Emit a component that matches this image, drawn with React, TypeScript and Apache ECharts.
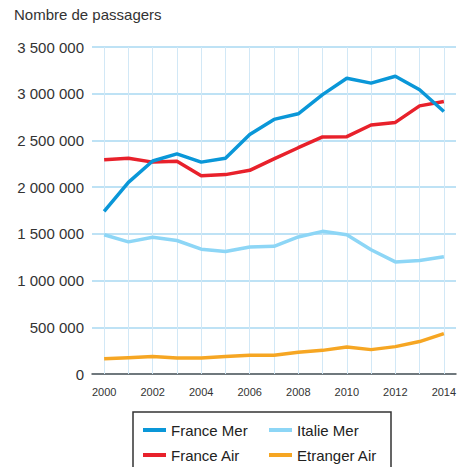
import React, { useEffect, useRef } from "react";
import * as echarts from "echarts";

const years = ["2000","2001","2002","2003","2004","2005","2006","2007","2008","2009","2010","2011","2012","2013","2014"];
const franceMer = [1741000, 2051000, 2280000, 2356000, 2268000, 2310000, 2563000, 2725000, 2785000, 2990000, 3166000, 3113000, 3187000, 3042000, 2810000];
const franceAir = [2292000, 2310000, 2268000, 2278000, 2123000, 2134000, 2180000, 2303000, 2422000, 2538000, 2540000, 2665000, 2693000, 2870000, 2916000];
const italieMer = [1490000, 1414000, 1464000, 1429000, 1336000, 1311000, 1360000, 1367000, 1467000, 1527000, 1490000, 1330000, 1200000, 1214000, 1254000];
const etrangerAir = [164000, 175000, 186000, 172000, 172000, 186000, 200000, 200000, 232000, 253000, 290000, 261000, 293000, 347000, 432000];

const FONT = "'Liberation Sans', Arial, Helvetica, sans-serif";

function fmt(v: number): string {
  return String(v).replace(/\B(?=(\d{3})+(?!\d))/g, " ");
}

export default function App() {
  const ref = useRef<HTMLDivElement>(null);
  useEffect(() => {
    if (!ref.current) return;
    const chart = echarts.init(ref.current, null, { renderer: "svg" });
    const mk = (name: string, data: number[], color: string, z: number) => ({
      name,
      type: "line",
      data,
      symbol: "none",
      z,
      lineStyle: { color, width: 3.5 },
      itemStyle: { color },
    });
    chart.setOption({
      animation: false,
      textStyle: { fontFamily: FONT },
      grid: { left: 92, right: 15, top: 47, bottom: 93 },
      graphic: [
        {
          type: "text",
          x: 14,
          y: 7,
          style: {
            text: "Nombre de passagers",
            font: "15px 'Liberation Sans', Arial, sans-serif",
            fontSize: 15,
            fill: "#333",
          },
        },
        {
          type: "rect",
          shape: { x: 133, y: 412, width: 258, height: 80 },
          style: { fill: "none", stroke: "#333", lineWidth: 1.5 },
        },
      ],
      xAxis: {
        type: "category",
        data: years,
        boundaryGap: true,
        axisLine: { lineStyle: { color: "#555", width: 1.5 } },
        axisTick: { show: false },
        splitLine: { show: false },
        axisLabel: { interval: 1, fontSize: 11, color: "#333", margin: 12, fontFamily: FONT },
      },
      yAxis: {
        type: "value",
        min: 0,
        max: 3500000,
        interval: 500000,
        axisLine: { show: false },
        axisTick: { show: false },
        axisLabel: { fontSize: 15, color: "#333", margin: 8, formatter: (v: number) => fmt(v), fontFamily: FONT },
        splitLine: { lineStyle: { color: "#a9d9f2", width: 1.5 } },
      },
      legend: [
        {
          orient: "vertical",
          left: 143,
          top: 422,
          padding: 0,
          itemGap: 9,
          itemWidth: 23,
          itemHeight: 4,
          icon: "rect",
          data: ["France Mer", "France Air"],
          textStyle: { fontSize: 15, color: "#222", lineHeight: 16, fontFamily: FONT },
        },
        {
          orient: "vertical",
          left: 269,
          top: 422,
          padding: 0,
          itemGap: 9,
          itemWidth: 23,
          itemHeight: 4,
          icon: "rect",
          data: ["Italie Mer", "Etranger Air"],
          textStyle: { fontSize: 15, color: "#222", lineHeight: 16, fontFamily: FONT },
        },
      ],
      series: [
        {
          name: "grid-v",
          type: "line",
          data: [],
          z: 1,
          markLine: {
            silent: true,
            z: 1,
            symbol: "none",
            label: { show: false },
            lineStyle: { color: "#d2e8f6", width: 1, type: "solid" },
            data: years.map((y) => ({ xAxis: y })),
          },
        },
        mk("Etranger Air", etrangerAir, "#f6a623", 2),
        mk("Italie Mer", italieMer, "#8dd6f6", 2),
        mk("France Air", franceAir, "#e8212b", 3),
        mk("France Mer", franceMer, "#0a97d8", 3),
      ],
    });
    return () => chart.dispose();
  }, []);
  return <div ref={ref} style={{ width: 471, height: 467, position: "absolute", left: 0, top: 0, background: "#fff" }} />;
}
